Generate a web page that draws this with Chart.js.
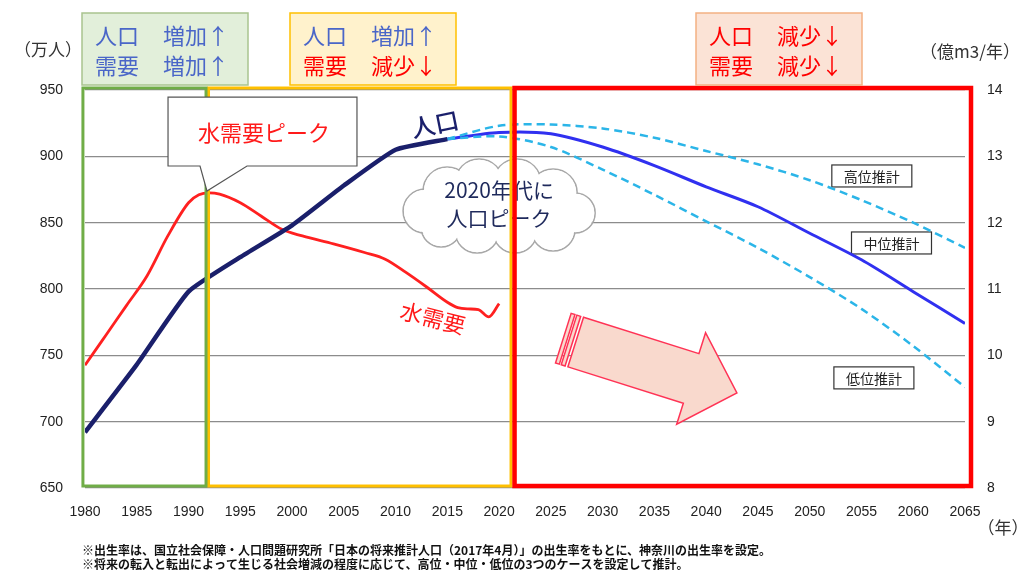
<!DOCTYPE html>
<html><head><meta charset="utf-8">
<script src="https://cdn.jsdelivr.net/npm/chart.js"></script>
<style>html,body{margin:0;padding:0;background:#fff;}#wrap{width:1029px;height:570px;}</style>
</head><body><div id="wrap"><canvas id="c" width="1029" height="570"></canvas></div>
<script>
// ---- data ----
const popYears = [1980,1985,1990,1995,2000,2005,2010,2015];
const popActual = [692,743,798,824,848,878,905,913];
const projYears = [2015,2020,2025,2030,2035,2040,2045,2050,2055,2060,2065];
const popMid  = [913,918,917,907,893,877,862,842,822,798,774];
const popHigh = [913,923,924,921,914,904,894,882,867,850,831];
const popLow  = [913,915,907,890,871,851,831,809,785,757,726];
const demandYears = [1980,1982,1984,1986,1988,1990,1991,1992,1993,1995,1997,1999,2001,2004,2007,2009,2011,2013,2015,2016,2017,2018,2019,2020];
const demandValues = [9.85,10.3,10.75,11.2,11.8,12.3,12.42,12.45,12.43,12.3,12.1,11.9,11.8,11.68,11.55,11.45,11.25,11.03,10.8,10.72,10.7,10.69,10.58,10.78];
const leftTicks = [650,700,750,800,850,900,950];
const rightTicks = [8,9,10,11,12,13,14];
const yearTicks = [1980,1985,1990,1995,2000,2005,2010,2015,2020,2025,2030,2035,2040,2045,2050,2055,2060,2065];

const JP = "'Noto Sans CJK JP','Noto Sans',sans-serif";
const NUM = "'Liberation Sans',Arial,sans-serif";
const pts = (xs, ys) => xs.map((v,i)=>({x:v,y:ys[i]}));

function cloud(ctx, cx, cy){
  const c = [[-74,6,22],[-52,-14,24],[-20,-22,24],[18,-22,24],[54,-12,24],[76,8,20],[54,24,22],[16,26,22],[-22,26,22],[-58,22,20]];
  ctx.save();
  ctx.strokeStyle='#a8a8a8'; ctx.lineWidth=1.6;
  c.forEach(([dx,dy,r])=>{ctx.beginPath();ctx.arc(cx+dx,cy+dy,r,0,Math.PI*2);ctx.stroke();});
  ctx.fillStyle='#fff';
  c.forEach(([dx,dy,r])=>{ctx.beginPath();ctx.arc(cx+dx,cy+dy,r-0.8,0,Math.PI*2);ctx.fill();});
  ctx.beginPath();ctx.ellipse(cx,cy+2,76,30,0,0,Math.PI*2);ctx.fill();
  ctx.restore();
}

const annot = {
  id:'annot',
  beforeDatasetsDraw(chart){
    const {ctx, scales:{x,y}} = chart;
    const X=v=>x.getPixelForValue(v), Y=v=>y.getPixelForValue(v);
    // cloud
    const cx=X(2020.0), cy=Y(863.3);
    cloud(ctx,cx,cy);
    ctx.save();
    ctx.fillStyle='#1f2a5c'; ctx.font="21px "+JP; ctx.textAlign='center'; ctx.textBaseline='middle';
    ctx.fillText('2020年代に', cx, Y(874.6));
    ctx.fillText('人口ピーク', cx, Y(853.5));
    ctx.restore();
    // big arrow
    ctx.save();
    ctx.translate(X(2027.4), Y(760)); ctx.rotate(17.5*Math.PI/180);
    ctx.fillStyle='#f9d9cd'; ctx.strokeStyle='#ff3355'; ctx.lineWidth=1.5;
    ctx.beginPath();
    ctx.moveTo(0,-26); ctx.lineTo(121,-26); ctx.lineTo(121,-48); ctx.lineTo(169,0);
    ctx.lineTo(121,48); ctx.lineTo(121,26); ctx.lineTo(0,26); ctx.closePath();
    ctx.fill(); ctx.stroke();
    [[-13,4],[-7,4]].forEach(([o,w])=>{ctx.beginPath();ctx.rect(o,-26,w,52);ctx.fill();ctx.stroke();});
    ctx.restore();
    // label boxes
    ctx.save();
    ctx.font="14px "+JP; ctx.textAlign='center'; ctx.textBaseline='middle';
    [['高位推計',2056.0,885.2],['中位推計',2057.9,834.7],['低位推計',2056.2,733.0]].forEach(([t,yr,v])=>{
      const px=X(yr), py=Y(v);
      ctx.fillStyle='#fff'; ctx.fillRect(px-40,py-11,80,22);
      ctx.strokeStyle='#333'; ctx.lineWidth=1.2; ctx.strokeRect(px-40,py-11,80,22);
      ctx.fillStyle='#222'; ctx.fillText(t,px,py+1);
    });
    ctx.restore();
  },
  afterDatasetsDraw(chart){
    const {ctx, scales:{x,y}} = chart;
    const X=v=>x.getPixelForValue(v), Y=v=>y.getPixelForValue(v);
    ctx.save();
    const box=(x0,x1,col,lw)=>{ctx.strokeStyle=col;ctx.lineWidth=lw;ctx.strokeRect(X(x0),Y(951.5),X(x1)-X(x0),Y(651.5)-Y(951.5));};
    box(1991.93,2021.15,'#ffc000',3);
    box(1979.8,1991.69,'#70ad47',3);
    box(2021.49,2065.58,'#ff0000',4.5);
    ctx.restore();
    // callout (on top of region borders)
    ctx.save();
    ctx.beginPath();
    ctx.moveTo(X(1988.02),Y(944.7)); ctx.lineTo(X(2006.27),Y(944.7)); ctx.lineTo(X(2006.27),Y(892.7));
    ctx.lineTo(X(1995.65),Y(892.7)); ctx.lineTo(X(1991.78),Y(873.9)); ctx.lineTo(X(1991.11),Y(892.7));
    ctx.lineTo(X(1988.02),Y(892.7)); ctx.closePath();
    ctx.fillStyle='#fff'; ctx.fill(); ctx.strokeStyle='#555'; ctx.lineWidth=1.2; ctx.stroke();
    ctx.fillStyle='#ff1a1a'; ctx.font="22px "+JP; ctx.textAlign='center'; ctx.textBaseline='middle';
    ctx.fillText('水需要ピーク', X(1997.3), Y(917.6));
    ctx.restore();
    // labels
    ctx.save();
    ctx.font="500 24px "+JP; ctx.textAlign='center'; ctx.textBaseline='middle';
    ctx.save(); ctx.translate(X(2013.8),Y(924.4)); ctx.rotate(-0.2); ctx.fillStyle='#1a1f6b'; ctx.fillText('人口',0,0); ctx.restore();
    ctx.save(); ctx.translate(X(2013.6),Y(778)); ctx.rotate(0.25); ctx.fillStyle='#ff1a1a'; ctx.font="22px "+JP; ctx.fillText('水需要',0,0); ctx.restore();
    ctx.restore();
  },
  afterDraw(chart){
    const {ctx} = chart;
    ctx.save();
    const heads=[
      {x:82,fill:'#e2efda',stroke:'#a9c48f',rows:[['人口','増加↑','#4a66c8'],['需要','増加↑','#4a66c8']]},
      {x:290,fill:'#fff2cc',stroke:'#ffc000',rows:[['人口','増加↑','#4a66c8'],['需要','減少↓','#ff0000']]},
      {x:696,fill:'#fbe3d6',stroke:'#f4b183',rows:[['人口','減少↓','#ff0000'],['需要','減少↓','#ff0000']]}
    ];
    heads.forEach(h=>{
      ctx.fillStyle=h.fill; ctx.fillRect(h.x,13,166,72);
      ctx.strokeStyle=h.stroke; ctx.lineWidth=1.5; ctx.strokeRect(h.x,13,166,72);
      ctx.font="22px "+JP; ctx.textBaseline='middle'; ctx.textAlign='left';
      h.rows.forEach((r,i)=>{ctx.fillStyle=r[2]; const yy=36+i*30; ctx.fillText(r[0],h.x+13,yy); ctx.fillText(r[1],h.x+81,yy);});
    });
    ctx.fillStyle='#333'; ctx.font="17px "+JP; ctx.textAlign='center'; ctx.textBaseline='middle';
    ctx.fillText('（万人）',48,50);
    ctx.fillText('（億m3/年）',970,52);
    ctx.fillText('（年）',1003,528);
    ctx.fillStyle='#111'; ctx.font="bold 12px "+JP; ctx.textAlign='left';
    ctx.fillText('※出生率は、国立社会保障・人口問題研究所「日本の将来推計人口（2017年4月）」の出生率をもとに、神奈川の出生率を設定。',82,550);
    ctx.fillText('※将来の転入と転出によって生じる社会増減の程度に応じて、高位・中位・低位の3つのケースを設定して推計。',82,564);
    ctx.restore();
  }
};

new Chart(document.getElementById('c'), {
  type:'line',
  data:{datasets:[
    {label:'人口（実績）',data:pts(popYears,popActual),borderColor:'#1a1f6b',borderWidth:4.5,pointRadius:0,tension:0.15,yAxisID:'y'},
    {label:'高位推計',data:pts(projYears,popHigh),borderColor:'#2bb5e8',borderWidth:2.5,borderDash:[8,5],pointRadius:0,tension:0.3,yAxisID:'y'},
    {label:'低位推計',data:pts(projYears,popLow),borderColor:'#2bb5e8',borderWidth:2.5,borderDash:[8,5],pointRadius:0,tension:0.3,yAxisID:'y'},
    {label:'中位推計',data:pts(projYears,popMid),borderColor:'#3030f0',borderWidth:3,pointRadius:0,tension:0.3,yAxisID:'y'},
    {label:'水需要',data:pts(demandYears,demandValues),borderColor:'#ff2020',borderWidth:2.8,pointRadius:0,cubicInterpolationMode:'monotone',yAxisID:'y1'}
  ]},
  options:{
    responsive:false, animation:false, devicePixelRatio:1,
    layout:{padding:{top:90,bottom:52,left:0,right:0}},
    plugins:{legend:{display:false},tooltip:{enabled:false}},
    scales:{
      x:{type:'linear',min:1980,max:2065,
        afterBuildTicks:s=>{s.ticks=yearTicks.map(v=>({value:v}));},
        afterFit:s=>{s.height=30;},
        ticks:{callback:v=>String(v),font:{family:NUM,size:14},color:'#222',padding:8,maxRotation:0,autoSkip:false},
        grid:{display:false},border:{display:false}},
      y:{position:'left',min:650,max:950,
        afterBuildTicks:s=>{s.ticks=leftTicks.map(v=>({value:v}));},
        afterFit:s=>{s.width=85;},
        ticks:{font:{family:NUM,size:14},color:'#222',padding:22},
        grid:{color:'#8c8c8c',lineWidth:1.2,drawTicks:false},border:{display:false}},
      y1:{position:'right',min:8,max:14,
        afterBuildTicks:s=>{s.ticks=rightTicks.map(v=>({value:v}));},
        afterFit:s=>{s.width=64;},
        ticks:{font:{family:NUM,size:14},color:'#222',padding:22},
        grid:{display:false,drawTicks:false},border:{display:false}}
    }
  },
  plugins:[annot]
});
</script>
</body></html>
